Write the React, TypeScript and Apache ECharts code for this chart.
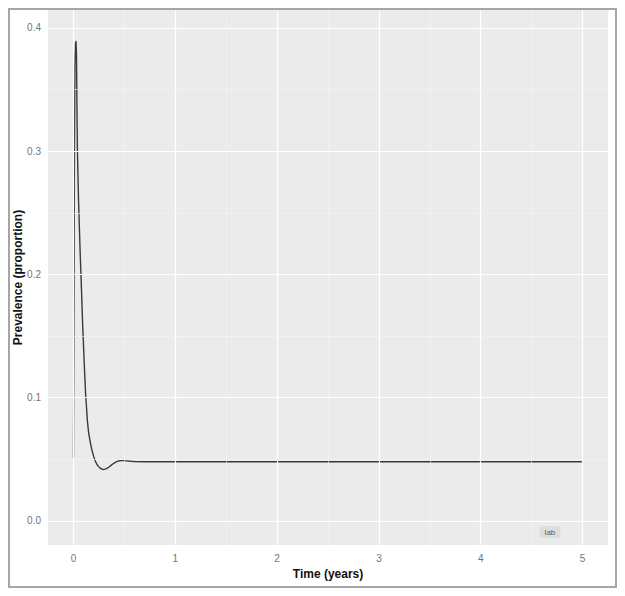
import React, { useEffect, useRef } from "react";
import * as echarts from "echarts";

const time = [0, 0.005, 0.01, 0.015, 0.02, 0.025, 0.03, 0.035, 0.039, 0.05, 0.065, 0.08, 0.09, 0.1, 0.11, 0.12, 0.13, 0.137, 0.15, 0.165, 0.18, 0.2, 0.215, 0.23, 0.245, 0.26, 0.28, 0.3, 0.32, 0.35, 0.375, 0.4, 0.42, 0.445, 0.47, 0.495, 0.52, 0.56, 0.6, 0.7, 1, 2, 3, 4, 5];
const prevalence = [0.051, 0.17, 0.3, 0.37, 0.387, 0.389, 0.378, 0.33, 0.3, 0.26, 0.22, 0.185, 0.16, 0.14, 0.12, 0.102, 0.09, 0.081, 0.071, 0.064, 0.058, 0.052, 0.0485, 0.046, 0.0443, 0.043, 0.042, 0.0418, 0.0423, 0.0438, 0.0455, 0.047, 0.048, 0.0487, 0.049, 0.049, 0.0488, 0.0484, 0.0482, 0.048, 0.048, 0.048, 0.048, 0.048, 0.048];

const xTicks = [0, 1, 2, 3, 4, 5];
const yTicks = [0, 0.1, 0.2, 0.3, 0.4];
const xMinor = [0.5, 1.5, 2.5, 3.5, 4.5];
const yMinor = [0.05, 0.15, 0.25, 0.35];

const labelText = "lab";
const labelPos = [4.68, -0.009];

const xTitle = "Time (years)";
const yTitle = "Prevalence (proportion)";

const FONT = "Liberation Sans, Arial, Helvetica, sans-serif";

export default function App() {
  const ref = useRef<HTMLDivElement>(null);
  useEffect(() => {
    if (!ref.current) return;
    const chart = echarts.init(ref.current, undefined, { renderer: "svg" });
    const major = { color: "#ffffff", width: 1.2, type: "solid" as const };
    const minor = { color: "#f5f5f5", width: 0.6, type: "solid" as const };
    const gridLines = [
      ...xTicks.map((v) => ({ xAxis: v, lineStyle: major })),
      ...xMinor.map((v) => ({ xAxis: v, lineStyle: minor })),
      ...yTicks.map((v) => ({ yAxis: v, lineStyle: major })),
      ...yMinor.map((v) => ({ yAxis: v, lineStyle: minor })),
    ];
    chart.setOption({
      animation: false,
      backgroundColor: "#ffffff",
      textStyle: { fontFamily: FONT },
      grid: {
        left: 48,
        right: 17,
        top: 10,
        bottom: 51,
        show: true,
        backgroundColor: "#ebebeb",
        borderWidth: 0,
        containLabel: false,
      },
      graphic: [
        {
          type: "rect",
          shape: { x: 9, y: 9, width: 607, height: 578 },
          style: { fill: "none", stroke: "#a6a6a6", lineWidth: 2 },
          silent: true,
          z: 100,
        },
      ],
      xAxis: {
        type: "value",
        min: -0.25,
        max: 5.25,
        name: xTitle,
        nameLocation: "middle",
        nameGap: 22,
        nameTextStyle: { fontFamily: FONT, fontWeight: "bold", fontSize: 12, color: "#111" },
        axisLine: { show: false },
        axisTick: { show: true, customValues: xTicks, length: 3, lineStyle: { color: "#555", width: 1 } },
        axisLabel: {
          customValues: xTicks,
          fontSize: 10,
          color: "#747474",
          margin: 8,
          fontFamily: FONT,
          formatter: (v: number) => String(v),
        },
        splitLine: { show: false },
      },
      yAxis: {
        type: "value",
        min: -0.0195,
        max: 0.4146,
        name: yTitle,
        nameLocation: "middle",
        nameGap: 24,
        nameRotate: 90,
        nameMoveOverlap: false,
        nameTextStyle: { fontFamily: FONT, fontWeight: "bold", fontSize: 12, color: "#111" },
        axisLine: { show: false },
        axisTick: { show: true, customValues: yTicks, length: 3, lineStyle: { color: "#555", width: 1 } },
        axisLabel: {
          customValues: yTicks,
          fontSize: 10,
          color: "#747474",
          margin: 7,
          fontFamily: FONT,
          formatter: (v: number) => v.toFixed(1),
        },
        splitLine: { show: false },
      },
      series: [
        {
          type: "line",
          data: [],
          silent: true,
          z: 1,
          markLine: {
            silent: true,
            symbol: ["none", "none"],
            label: { show: false },
            animation: false,
            data: gridLines,
          },
        },
        {
          type: "line",
          data: time.map((t, i) => [t, prevalence[i]]),
          showSymbol: false,
          symbol: "none",
          smooth: false,
          lineStyle: { color: "#3a3a3a", width: 1.4, join: "round" },
          z: 3,
        },
        {
          type: "scatter",
          data: [labelPos],
          symbolSize: 0,
          z: 4,
          label: {
            show: true,
            position: "inside",
            formatter: labelText,
            fontSize: 8,
            color: "#333",
            fontFamily: FONT,
            backgroundColor: "#d9d9d9",
            borderRadius: 3,
            padding: [2, 5],
          },
        },
      ],
    });
    return () => chart.dispose();
  }, []);
  return (
    <div
      ref={ref}
      style={{ position: "fixed", left: 0, top: 0, width: 625, height: 596, background: "#fff" }}
    />
  );
}
